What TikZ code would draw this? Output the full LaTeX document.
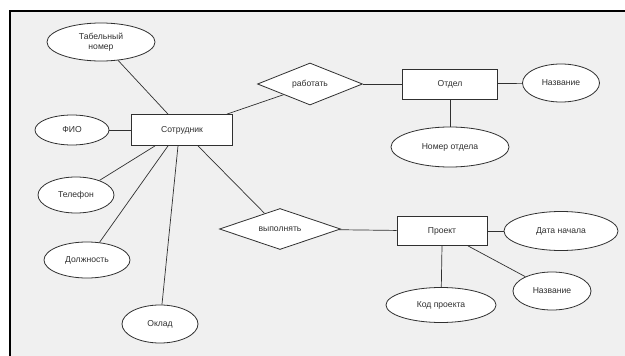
\documentclass[tikz,border=0pt]{standalone}
\usepackage{fontspec}
\setmainfont{Liberation Sans}
\usetikzlibrary{shapes.geometric}
\definecolor{bg}{HTML}{F0F0F0}
\definecolor{ln}{HTML}{303030}
\begin{document}
\begin{tikzpicture}[x=1pt,y=-1pt,
  every node/.style={font=\fontsize{8.6}{9.6}\selectfont, text=ln},
  attr/.style={ellipse, draw=ln, fill=white, line width=0.8pt, inner sep=0pt},
  ent/.style={rectangle, draw=ln, fill=white, line width=0.8pt, inner sep=0pt},
  rel/.style={diamond, draw=ln, fill=white, line width=0.8pt, inner sep=0pt, aspect=2.5},
  conn/.style={draw=ln, line width=0.7pt}]
\useasboundingbox (0,0) rectangle (625,356);
\fill[white] (0,0) rectangle (625,356);
\fill[bg] (10,11) rectangle (625,356);
\draw[black, line width=1.5pt] (10,356) -- (10,11) -- (625,11);

% entities
\node[ent, minimum width=101pt, minimum height=31pt] (emp) at (182,130) {Сотрудник};
\node[ent, minimum width=95pt, minimum height=30pt] (dep) at (450,84) {Отдел};
\node[ent, minimum width=90pt, minimum height=29pt] (prj) at (442,231) {Проект};

% relationships
\node[rel, minimum width=105pt, minimum height=42pt] (work) at (310,84) {работать};
\node[rel, minimum width=121pt, minimum height=41pt] (do) at (280,229) {выполнять};

% attributes
\node[attr, minimum width=108pt, minimum height=38pt, align=center] (tab) at (101,42) {Табельный\\номер};
\node[attr, minimum width=74pt, minimum height=30pt] (fio) at (72,130) {ФИО};
\node[attr, minimum width=76pt, minimum height=36pt] (tel) at (76,195) {Телефон};
\node[attr, minimum width=86pt, minimum height=36pt] (pos) at (87,260) {Должность};
\node[attr, minimum width=76pt, minimum height=38pt] (sal) at (160,324) {Оклад};
\node[attr, minimum width=77pt, minimum height=38pt] (dname) at (561,83) {Название};
\node[attr, minimum width=118pt, minimum height=40pt] (dnum) at (450,147) {Номер отдела};
\node[attr, minimum width=114pt, minimum height=39pt] (pdate) at (561,231) {Дата начала};
\node[attr, minimum width=78pt, minimum height=38pt] (pname) at (552,291) {Название};
\node[attr, minimum width=110pt, minimum height=35pt] (pcode) at (441,305) {Код проекта};

% connectors
\draw[conn] (tab) -- ([xshift=-14pt]emp.north);
\draw[conn] (fio) -- (emp);
\draw[conn] ([xshift=45pt]emp.north) -- (work.south west);
\draw[conn] (work) -- (dep);
\draw[conn] (dep) -- (dname);
\draw[conn] (dep) -- (dnum);
\draw[conn] ([xshift=-27pt]emp.south) -- (tel);
\draw[conn] ([xshift=-14pt]emp.south) -- (pos);
\draw[conn] ([xshift=-4pt]emp.south) -- (sal);
\draw[conn] ([xshift=16pt]emp.south) -- (do);
\draw[conn] (do) -- (prj);
\draw[conn] (prj) -- (pdate);
\draw[conn] (prj.south) -- (pcode);
\draw[conn] ([xshift=26pt]prj.south) -- (pname);
\end{tikzpicture}
\end{document}
